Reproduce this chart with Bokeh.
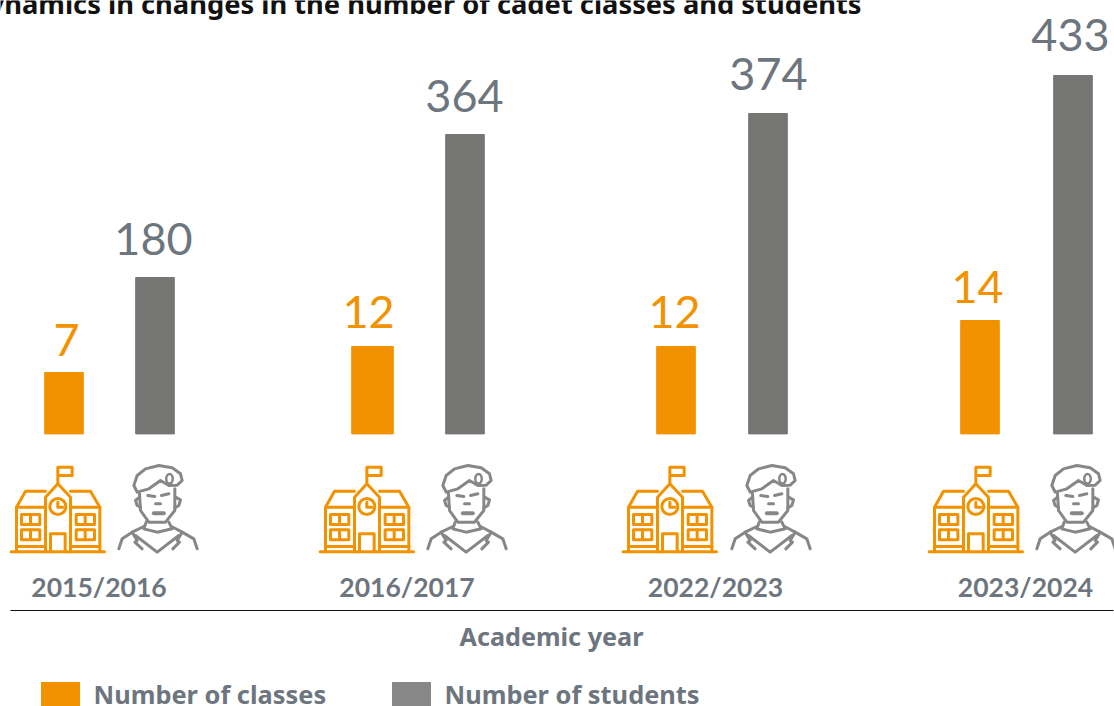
from bokeh.plotting import figure
from bokeh.models import Range1d
from bokeh.core.properties import value
from bokeh.embed import file_html
from bokeh.resources import INLINE

# ---- chart content ----
years = ["2015/2016", "2016/2017", "2022/2023", "2023/2024"]
classes = [7, 12, 12, 14]
students = [180, 364, 374, 433]
# The source graphic is not to scale: these are the bar lengths as drawn (px)
class_bar_len = [62, 88, 88, 114]
student_bar_len = [157, 300, 321, 359]
title = "Dynamics in changes in the number of cadet classes and students"
x_title = "Academic year"
legend_names = ["Number of classes", "Number of students"]

# ---- layout and style ----
ORANGE = "#F39200"
GREY_BAR = "#767675"
GREY_KEY = "#878787"
GREY_TEXT = "#6D767E"
FONT = value("Lato")
WORD_FONT = value("Noto Sans")
class_x = [63.5, 372, 675.5, 979.5]
class_w = [38.6, 41.6, 38.6, 38.6]
student_x = [154.5, 464.5, 767.5, 1072.5]
student_w = [38.6, 38.6, 38.6, 38.6]
class_label_x = [66, 368, 674, 977]
student_label_x = [153, 464, 768, 1070]
class_label_gap = [33, 35, 35, 34]
student_label_gap = [39, 39, 40, 41]
year_x = [98.5, 406.5, 715, 1025]
school_x = [10, 319, 622, 928]
soldier_x = [118, 427, 731, 1036]

BASE = 434  # pixel row of the bars' foot
FIG_W, FIG_H = 1114, 706
p = figure(width=FIG_W, height=FIG_H, output_backend="svg", toolbar_location=None,
           x_range=Range1d(0, FIG_W), y_range=Range1d(BASE - FIG_H, BASE),
           min_border=0, outline_line_color=None)
p.axis.visible = False
p.grid.visible = False


def py(row):
    return BASE - row


p.vbar(x=class_x, width=class_w, bottom=0.6, top=class_bar_len, color=ORANGE)
p.vbar(x=student_x, width=student_w, bottom=0.6, top=student_bar_len, color=GREY_BAR)

p.text(x=class_label_x, y=[h + g for h, g in zip(class_bar_len, class_label_gap)],
       text=[str(v) for v in classes], text_font=FONT, text_font_size="45px",
       text_color=ORANGE, text_align="center", text_baseline="middle")
p.text(x=student_label_x, y=[h + g for h, g in zip(student_bar_len, student_label_gap)],
       text=[str(v) for v in students], text_font=FONT, text_font_size="45px",
       text_color=GREY_TEXT, text_align="center", text_baseline="middle")

p.text(x=year_x, y=[py(586)] * 4, text=years, text_font=FONT, text_font_size="26.5px",
       text_font_style="bold", text_color=GREY_TEXT, text_align="center", text_baseline="middle")
p.segment(x0=[10], x1=[1113], y0=[py(610)], y1=[py(610)], line_color="#111111", line_width=1)
p.text(x=[551], y=[py(635)], text=[x_title], text_font=WORD_FONT, text_font_size="25.2px",
       text_font_style="bold", text_color=GREY_TEXT, text_align="center", text_baseline="middle")
p.text(x=[861], y=[py(3)], text=[title], text_font=WORD_FONT, text_font_size="27.3px",
       text_font_style="bold", text_color="#111111", text_align="right", text_baseline="middle")

# legend
p.quad(left=[41], right=[79], top=[py(682)], bottom=[py(706)], color=ORANGE)
p.quad(left=[392], right=[430], top=[py(682)], bottom=[py(706)], color=GREY_KEY)
p.text(x=[93, 444], y=[py(693)] * 2, text=legend_names, text_font=WORD_FONT, text_font_size="25.4px",
       text_font_style="bold", text_color=GREY_TEXT, text_align="left", text_baseline="middle")

# ---- pictograms: outlines ----
SCHOOL = [  # 3x coordinates from (0, 450)
    [(32, 304), (312, 304)],
    [(172, 100), (172, 50), (215, 50), (215, 75), (172, 75)],
    [(135, 304), (135, 140), (172, 100), (210, 140), (210, 304)],
    [(135, 122), (75, 122), (48, 170), (48, 304)],
    [(210, 122), (270, 122), (298, 170), (298, 304)],
    [(48, 170), (135, 170)], [(210, 170), (298, 170)],
    [(48, 288), (135, 288)], [(210, 288), (298, 288)],
    [(172, 155), (172, 170), (187, 170)],
    [(63, 192), (118, 192), (118, 222), (63, 222), (63, 192)], [(90, 192), (90, 222)],
    [(63, 238), (118, 238), (118, 268), (63, 268), (63, 238)], [(90, 238), (90, 268)],
    [(227, 192), (282, 192), (282, 222), (227, 222), (227, 192)], [(254, 192), (254, 222)],
    [(227, 238), (282, 238), (282, 268), (227, 268), (227, 238)], [(254, 238), (254, 268)],
    [(150, 304), (150, 250), (194, 250), (194, 304)],
]
SOLDIER = [  # 3x coordinates from (115, 460)
    [(65, 95), (55, 75), (65, 45), (90, 25), (130, 15), (170, 22), (195, 40), (200, 60),
     (185, 74), (160, 75), (135, 60), (100, 85), (65, 95)],
    [(72, 100), (75, 150), (100, 185), (150, 185), (178, 150), (178, 85)],
    [(72, 110), (60, 120), (65, 135), (75, 140)],
    [(180, 110), (195, 118), (190, 135), (178, 142)],
    [(97, 105), (118, 108)], [(138, 105), (160, 100)],
    [(120, 130), (135, 130)],
    [(92, 185), (85, 205), (125, 215), (170, 205), (160, 185)],
    [(60, 225), (125, 275), (190, 225)],
    [(10, 265), (20, 235), (50, 215), (85, 198)],
    [(245, 265), (235, 235), (200, 215), (168, 198)],
    [(50, 215), (65, 240), (58, 245), (80, 265)],
    [(200, 215), (185, 240), (192, 245), (172, 265)],
]
MOUTH = [[(115, 158), (145, 158)]]


def draw(shape, origin, row0, color, width=3.0):
    xs = [[origin + a / 3 for a, _ in line] for line in shape]
    ys = [[py(row0 + b / 3) for _, b in line] for line in shape]
    p.multi_line(xs=xs, ys=ys, line_color=color, line_width=width,
                 line_cap="round", line_join="round")


for sx, gx in zip(school_x, soldier_x):
    draw(SCHOOL, sx - 10, 450, ORANGE)
    p.scatter(x=[sx + 172 / 3 - 10], y=[py(450 + 168 / 3)], marker="circle", size=16,
              fill_color=None, line_color=ORANGE, line_width=3)
    draw(SOLDIER, gx - 3, 460, GREY_KEY)
    draw(MOUTH, gx - 3, 460, GREY_KEY, width=4)
    p.ellipse(x=[gx - 3 + 162 / 3], y=[py(460 + 55 / 3)], width=6.5, height=9.5,
              fill_color=None, line_color=GREY_KEY, line_width=2.5)

open("out.html", "w").write(file_html(p, INLINE))
